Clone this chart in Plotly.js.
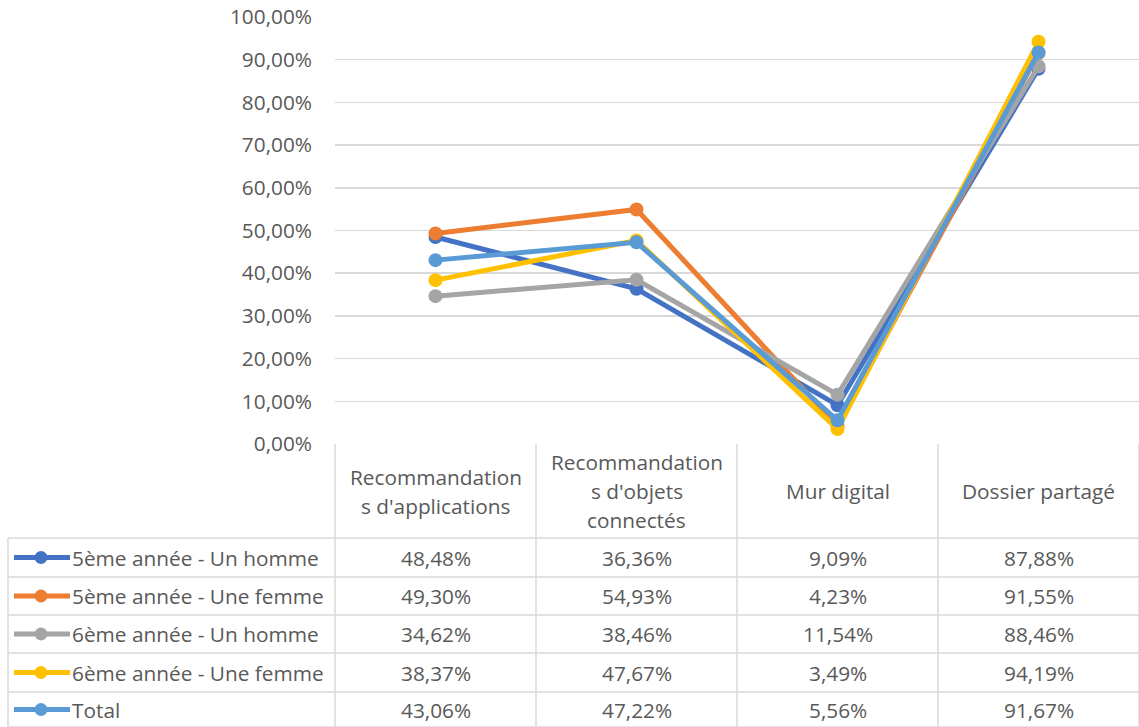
<!DOCTYPE html>
<html><head><meta charset="utf-8">
<script src="https://cdn.plot.ly/plotly-3.0.1.min.js"></script>
<style>html,body{margin:0;padding:0;background:#fff}#chart{width:1139px;height:727px}</style>
</head><body><div id="chart"></div>
<script>
// ---- data ----
const categories = ["Recommandation|s d'applications", "Recommandation|s d'objets|connectés", "Mur digital", "Dossier partagé"];
const seriesNames = ["5ème année - Un homme", "5ème année - Une femme", "6ème année - Un homme", "6ème année - Une femme", "Total"];
const s5Homme = [0.4848, 0.3636, 0.0909, 0.8788];
const s5Femme = [0.4930, 0.5493, 0.0423, 0.9155];
const s6Homme = [0.3462, 0.3846, 0.1154, 0.8846];
const s6Femme = [0.3837, 0.4767, 0.0349, 0.9419];
const sTotal  = [0.4306, 0.4722, 0.0556, 0.9167];
const yTicks = [0, 0.1, 0.2, 0.3, 0.4, 0.5, 0.6, 0.7, 0.8, 0.9, 1.0];

const seriesValues = [s5Homme, s5Femme, s6Homme, s6Femme, sTotal];
const colors = ["#4472C4", "#ED7D31", "#A5A5A5", "#FFC000", "#5B9BD5"];

// ---- geometry (pixels) ----
const W = 1139, H = 727;
const plotL = 335, plotR = 1139, plotT = 17, plotB = 444;
const pw = plotR - plotL, ph = plotB - plotT;
const px = x => (x - plotL) / pw;
const py = y => (plotB - y) / ph;
const txtColor = "#595959", gridColor = "#D9D9D9";
const FONT = "'Open Sans', Lato, sans-serif";
const FS = 20.8;

const xIdx = categories.map((c, i) => i);
const traces = seriesValues.map((v, k) => ({
  type: "scatter", mode: "lines+markers", x: xIdx, y: v, name: seriesNames[k],
  line: {color: colors[k], width: 5}, marker: {color: colors[k], size: 14},
  showlegend: false, cliponaxis: false
}));

const headerTop = 444, headerBot = 538;
const rowEdges = [538, 577, 615, 653, 692, 727];
const tableLeft = 8;

const shapes = [];
const annotations = [];
const line = (x0, y0, x1, y1) => shapes.push({type: "line", xref: "paper", yref: "paper",
  x0: px(x0), y0: py(y0), x1: px(x1), y1: py(y1), line: {color: gridColor, width: 1.5}, layer: "below"});

for (let i = 0; i <= categories.length; i++) {
  const x = plotL + i * pw / categories.length;
  line(x, headerTop, x, H);
}
line(tableLeft, rowEdges[0], tableLeft, H);
rowEdges.forEach(y => line(tableLeft, y, plotR, y));

categories.forEach((c, i) => {
  const lines = c.split("|");
  const cx = plotL + (i + 0.5) * pw / categories.length;
  const mid = (headerTop + headerBot) / 2;
  const lh = 29;
  lines.forEach((t, j) => {
    const y = mid + (j - (lines.length - 1) / 2) * lh;
    annotations.push({xref: "paper", yref: "paper", x: px(cx), y: py(y), text: t, showarrow: false,
      xanchor: "center", yanchor: "middle", font: {family: FONT, size: FS, color: txtColor}});
  });
});

const fmt = v => (v * 100).toFixed(2).replace(".", ",") + "%";
seriesValues.forEach((vals, k) => {
  const cy = (rowEdges[k] + rowEdges[k + 1]) / 2;
  shapes.push({type: "line", xref: "paper", yref: "paper", x0: px(14), x1: px(70), y0: py(cy), y1: py(cy),
    line: {color: colors[k], width: 5}});
  shapes.push({type: "circle", xref: "paper", yref: "paper", x0: px(41 - 6.5), x1: px(41 + 6.5),
    y0: py(cy + 6.5), y1: py(cy - 6.5), fillcolor: colors[k], line: {color: colors[k], width: 0}});
  annotations.push({xref: "paper", yref: "paper", x: px(70), y: py(cy), text: seriesNames[k], showarrow: false,
    xanchor: "left", yanchor: "middle", font: {family: FONT, size: FS, color: txtColor}});
  vals.forEach((v, i) => {
    const cx = plotL + (i + 0.5) * pw / categories.length;
    annotations.push({xref: "paper", yref: "paper", x: px(cx), y: py(cy), text: fmt(v), showarrow: false,
      xanchor: "center", yanchor: "middle", font: {family: FONT, size: FS, color: txtColor}});
  });
});

const layout = {
  width: W, height: H,
  margin: {l: plotL, r: W - plotR, t: plotT, b: H - plotB, pad: 0},
  paper_bgcolor: "#fff", plot_bgcolor: "#fff",
  separators: ", ",
  font: {family: FONT, size: FS, color: txtColor},
  xaxis: {range: [-0.5, categories.length - 0.5], showticklabels: false, showgrid: false, zeroline: false,
    showline: false, fixedrange: true},
  yaxis: {range: [0, 1], tickvals: yTicks, tickformat: ".2%", showgrid: true, gridcolor: gridColor, gridwidth: 1.5,
    zeroline: false, showline: false, ticks: "", ticklabelstandoff: 22,
    tickfont: {family: FONT, size: FS, color: txtColor}, fixedrange: true},
  shapes: shapes, annotations: annotations, showlegend: false
};
Plotly.newPlot("chart", traces, layout, {displayModeBar: false, staticPlot: true});
</script></body></html>
